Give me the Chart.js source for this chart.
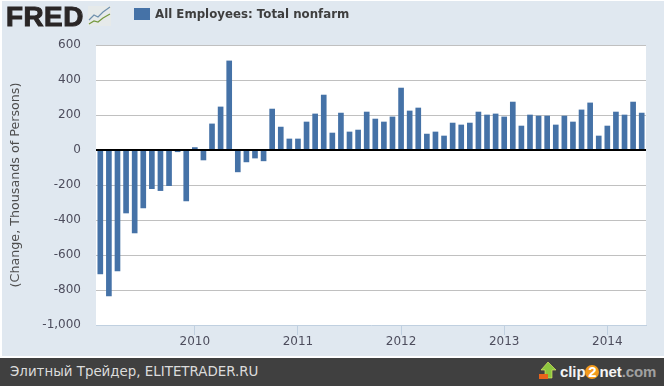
<!DOCTYPE html>
<html>
<head>
<meta charset="utf-8">
<title>All Employees: Total nonfarm</title>
<script src="https://cdn.jsdelivr.net/npm/chart.js@4"></script>
<style>
  html, body { margin: 0; padding: 0; background: #fff; }
  body { width: 664px; height: 386px; position: relative; overflow: hidden; }
  #panel { position: absolute; left: 2px; top: 1px; width: 662px; height: 355px; background: #e0e8f0; }
  #chartBox { position: absolute; left: 0; top: 0; width: 664px; height: 356px; }
  #logo { position: absolute; left: 6px; top: 1px; font: 900 27px/32px "Liberation Sans", sans-serif; color: #2a2626; -webkit-text-stroke: 1px #2a2626; letter-spacing: 0.5px; transform: scaleX(1.03); transform-origin: left center; }
  #logoIcon { position: absolute; left: 88px; top: 6px; }
  #legendBox { position: absolute; left: 134px; top: 8px; width: 16px; height: 12px; background: #4572a7; }
  #legendText { position: absolute; left: 155px; top: 6px; font: bold 11.8px/16px "DejaVu Sans", sans-serif; color: #3e3e3e; }
  #footer { position: absolute; left: 0; top: 358px; width: 664px; height: 28px; background: #404040; }
  #footerText { position: absolute; left: 10px; top: 6px; font: 13.4px/16px "DejaVu Sans", sans-serif; color: #dcdcdc; }
  #clipText { position: absolute; left: 560px; top: 4px; font: bold 15px/20px "Liberation Sans", sans-serif; color: #f4f4f4; letter-spacing: -0.1px; }
  #clipText span { color: #a0a0a0; font-weight: bold; }
  #clipText i { font-style: normal; display: inline-block; width: 14px; height: 14px; line-height: 14px; text-align: center; border-radius: 7px; background: #f39a1c; color: #fff; }
  #clipIcon { position: absolute; left: 539px; top: 4px; }
</style>
</head>
<body>
<div id="panel"></div>
<div id="chartBox"><canvas id="fredChart" width="664" height="356"></canvas></div>
<div id="logo">FRED</div>
<svg id="logoIcon" width="23" height="20">
  <rect width="23" height="20" fill="#e6eaea"/>
  <polyline points="1,14 6,9 10,11 15,6 22,1" fill="none" stroke="#6f90ad" stroke-width="1.2"/>
  <polyline points="1,18 6,15 10,16 15,12 22,8" fill="none" stroke="#76993f" stroke-width="1.2"/>
</svg>
<div id="legendBox"></div>
<div id="legendText">All Employees: Total nonfarm</div>
<div id="footer">
  <div id="footerText">Элитный Трейдер, ELITETRADER.RU</div>
  <svg id="clipIcon" width="18" height="18">
    <polygon points="9,0 17,8 13,8 13,16 6,16 6,8 2,8" fill="#8cc63f" stroke="#e9f26a" stroke-width="0.6"/>
    <rect x="0" y="12" width="9" height="5" fill="#e8641b"/>
  </svg>
  <div id="clipText">clip<i>2</i>net<span>.com</span></div>
</div>
<script>
// monthly categories, Feb 2009 - May 2014
const months = [
  '2009-02','2009-03','2009-04','2009-05','2009-06','2009-07','2009-08','2009-09','2009-10','2009-11','2009-12',
  '2010-01','2010-02','2010-03','2010-04','2010-05','2010-06','2010-07','2010-08','2010-09','2010-10','2010-11','2010-12',
  '2011-01','2011-02','2011-03','2011-04','2011-05','2011-06','2011-07','2011-08','2011-09','2011-10','2011-11','2011-12',
  '2012-01','2012-02','2012-03','2012-04','2012-05','2012-06','2012-07','2012-08','2012-09','2012-10','2012-11','2012-12',
  '2013-01','2013-02','2013-03','2013-04','2013-05','2013-06','2013-07','2013-08','2013-09','2013-10','2013-11','2013-12',
  '2014-01','2014-02','2014-03','2014-04','2014-05'
];

// change in thousands of persons
const employees = [
  -708, -834, -691, -360, -474, -331, -221, -232, -204, -10, -291,
  14, -57, 149, 246, 509, -125, -68, -46, -62, 234, 131, 63,
  63, 160, 206, 314, 97, 211, 103, 114, 217, 177, 160, 189,
  354, 223, 240, 91, 103, 80, 154, 143, 154, 217, 200, 206,
  189, 274, 137, 200, 194, 194, 143, 194, 160, 229, 269, 80,
  137, 217, 200, 274, 211
];

const seriesName = 'All Employees: Total nonfarm';
const yTitle = '(Change, Thousands of Persons)';

const fontFamily = '"DejaVu Sans", sans-serif';

// white plot background and the black zero line on top of the bars
const plotDecor = {
  id: 'plotDecor',
  beforeDraw(chart) {
    const a = chart.chartArea;
    chart.ctx.save();
    chart.ctx.fillStyle = '#ffffff';
    chart.ctx.fillRect(a.left, a.top, a.right - a.left, a.bottom - a.top);
    chart.ctx.restore();
  },
  afterDatasetsDraw(chart) {
    const a = chart.chartArea;
    const y = chart.scales.y.getPixelForValue(0);
    const ctx = chart.ctx;
    ctx.save();
    ctx.strokeStyle = '#000000';
    ctx.lineWidth = 2;
    ctx.beginPath();
    ctx.moveTo(a.left, y);
    ctx.lineTo(a.right, y);
    ctx.stroke();
    ctx.restore();
  }
};

new Chart(document.getElementById('fredChart'), {
  type: 'bar',
  data: {
    labels: months,
    datasets: [{
      label: seriesName,
      data: employees,
      backgroundColor: '#4572a7',
      barThickness: 5
    }]
  },
  options: {
    responsive: false,
    animation: false,
    layout: { padding: { top: 45, right: 18, left: 0, bottom: 0 } },
    plugins: { legend: { display: false }, tooltip: { enabled: false } },
    scales: {
      x: {
        type: 'category',
        offset: true,
        afterBuildTicks(scale) {
          // only the Januaries get a tick
          scale.ticks = scale.ticks.filter(t => months[t.value].endsWith('-01'));
        },
        afterFit(scale) { scale.height = 31; },
        grid: { offset: false, drawOnChartArea: false, tickLength: 10, tickColor: '#c0d0e0', tickWidth: 1 },
        border: { color: '#c0d0e0', width: 1 },
        ticks: {
          autoSkip: false,
          maxRotation: 0,
          padding: 0,
          color: '#4d4d5d',
          font: { family: fontFamily, size: 12 },
          callback(value) { return months[value].slice(0, 4); }
        }
      },
      y: {
        min: -1000,
        max: 600,
        afterFit(scale) { scale.width = 96; },
        grid: {
          color: ctx => ctx.tick.value === -1000 ? 'rgba(0,0,0,0)' : '#c0c0c0',
          lineWidth: 1,
          tickLength: 0,
          drawTicks: false
        },
        border: { display: false },
        title: {
          display: true,
          text: yTitle,
          color: '#4d4d4d',
          font: { family: fontFamily, size: 12.7 },
          padding: { top: 8, bottom: 0 }
        },
        ticks: {
          stepSize: 200,
          padding: 15,
          color: '#4d4d5d',
          font: { family: fontFamily, size: 12 },
          callback(value) { return value.toLocaleString('en-US'); }
        }
      }
    }
  },
  plugins: [plotDecor]
});
</script>
</body>
</html>
